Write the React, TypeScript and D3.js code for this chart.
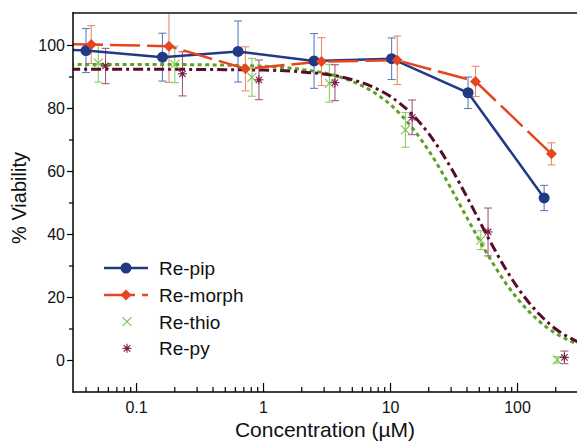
import React from 'react';
import * as d3 from 'd3';

// measured series (concentration in µM, % viability, error)
const pipConc = [0.04, 0.16, 0.63, 2.5, 10.2, 40.8, 162];
const pipVal = [98.4, 96.3, 98.1, 95.1, 95.8, 85.0, 51.6];
const pipErr = [7, 7.6, 9.7, 8.7, 6.6, 5, 4];

const morphConc = [0.044, 0.18, 0.72, 2.86, 11.3, 46.7, 185];
const morphVal = [100.3, 99.8, 92.6, 94.9, 95.3, 88.6, 65.6];
const morphErr = [6, 11.5, 7, 7.6, 7.7, 4.8, 3.5];

const thioConc = [0.05, 0.2, 0.81, 3.3, 13.1, 51.4, 206];
const thioVal = [94.4, 94.0, 89.9, 88.0, 73.2, 38.2, 0.2];
const thioErr = [6, 5.8, 6, 6, 5.5, 3, 1];

const pyConc = [0.057, 0.23, 0.92, 3.65, 14.8, 58.6, 234];
const pyVal = [93.5, 91.0, 89.1, 88.2, 77.2, 40.8, 1.0];
const pyErr = [5.6, 7, 6.3, 5.7, 5.5, 7.6, 2];

// fitted dose-response curves
const fitConc = [0.03, 0.1, 0.3, 1, 2, 4, 7, 10, 15, 20, 30, 40, 60, 80, 100, 150, 200, 300];
const thioFit = [94.0, 94.0, 93.9, 93.4, 92.4, 90.0, 85.7, 81.2, 73.6, 66.6, 54.6, 45.3, 32.7, 24.8, 19.6, 12.3, 8.6, 5.1];
const pyFit = [92.5, 92.5, 92.4, 92.2, 91.6, 90.1, 87.1, 83.8, 77.9, 72.0, 61.1, 51.9, 38.3, 29.3, 23.2, 14.5, 10.0, 5.85];

const xTickLabels = ['0.1', '1', '10', '100'];
const yTickValues = [0, 20, 40, 60, 80, 100];
const yMinorValues = [10, 30, 50, 70, 90];
const legendLabels = ['Re-pip', 'Re-morph', 'Re-thio', 'Re-py'];

const W = 577;
const H = 443;
const margin = { top: 14, right: 0, bottom: 51, left: 73 };

const colors = {
  pip: '#213a86',
  pipErr: '#5b7fc3',
  morph: '#e6461f',
  morphErr: '#ef8a6c',
  thio: '#7cc04f',
  thioFit: '#5f9f23',
  thioErr: '#8fcb6c',
  py: '#7a1f47',
  pyFit: '#5a0b27',
  pyErr: '#a45a7c',
};

const font = 'Liberation Sans, Arial, Helvetica, sans-serif';

const x = d3.scaleLog().domain([0.0316, 294]).range([margin.left, W - margin.right]);
const y = d3.scaleLinear().domain([-10, 110]).range([H - margin.bottom, margin.top]);

const zip = (xs: number[], ys: number[]) => xs.map((c, i) => [c, ys[i]] as [number, number]);

const Cross = ({ cx, cy, color, r = 4.5 }: any) => (
  <g stroke={color} strokeWidth={1.1}>
    <line x1={cx - r} y1={cy - r} x2={cx + r} y2={cy + r} />
    <line x1={cx - r} y1={cy + r} x2={cx + r} y2={cy - r} />
  </g>
);

const Star = ({ cx, cy, color, r = 4.5 }: any) => (
  <g stroke={color} strokeWidth={1.1}>
    <line x1={cx - r} y1={cy} x2={cx + r} y2={cy} />
    <line x1={cx} y1={cy - r} x2={cx} y2={cy + r} />
    <line x1={cx - r * 0.72} y1={cy - r * 0.72} x2={cx + r * 0.72} y2={cy + r * 0.72} />
    <line x1={cx - r * 0.72} y1={cy + r * 0.72} x2={cx + r * 0.72} y2={cy - r * 0.72} />
    <circle cx={cx} cy={cy} r={1.3} fill={color} />
  </g>
);

const Diamond = ({ cx, cy, color, r = 5.5 }: any) => (
  <path d={`M${cx},${cy - r}L${cx + r},${cy}L${cx},${cy + r}L${cx - r},${cy}Z`} fill={color} />
);

const ErrorBars = ({ conc, val, err, color }: any) => (
  <g stroke={color} strokeWidth={1.1} fill="none">
    {conc.map((c: number, i: number) => {
      const cx = x(c);
      const top = y(val[i] + err[i]);
      const bot = y(val[i] - err[i]);
      return (
        <g key={i}>
          <line x1={cx} x2={cx} y1={top} y2={bot} />
          <line x1={cx - 4} x2={cx + 4} y1={top} y2={top} />
          <line x1={cx - 4} x2={cx + 4} y1={bot} y2={bot} />
        </g>
      );
    })}
  </g>
);

const App = () => {
  const lineLin = d3.line<[number, number]>().x(d => x(d[0])).y(d => y(d[1]));
  const lineFit = d3.line<[number, number]>().x(d => x(d[0])).y(d => y(d[1])).curve(d3.curveMonotoneX);

  const majors = xTickLabels.map(Number);
  const minors: number[] = [];
  [0.01, 0.1, 1, 10, 100].forEach(dec => {
    for (let k = 2; k <= 9; k++) {
      const v = dec * k;
      if (v > 0.0316 && v < 294) minors.push(v);
    }
  });

  const plotBottom = H - margin.bottom;
  const legX = 104;
  const legY = [268, 295, 321.7, 348.3];

  return (
    <svg width={W} height={H} style={{ position: 'absolute', left: 0, top: 0, background: '#fff' }} fontFamily={font}>
      <defs>
        <clipPath id="plot">
          <rect x={margin.left} y={margin.top - 1} width={W - margin.left} height={plotBottom - margin.top + 1} />
        </clipPath>
      </defs>

      <g clipPath="url(#plot)">
        {/* error bars */}
        <ErrorBars conc={pipConc} val={pipVal} err={pipErr} color={colors.pipErr} />
        <ErrorBars conc={morphConc} val={morphVal} err={morphErr} color={colors.morphErr} />
        <ErrorBars conc={thioConc} val={thioVal} err={thioErr} color={colors.thioErr} />
        <ErrorBars conc={pyConc} val={pyVal} err={pyErr} color={colors.pyErr} />

        {/* fits */}
        <path d={lineFit(zip(fitConc, thioFit)) || ''} fill="none" stroke={colors.thioFit} strokeWidth={3} strokeDasharray="4,3.5" />
        <path d={lineFit(zip(fitConc, pyFit)) || ''} fill="none" stroke={colors.pyFit} strokeWidth={3} strokeDasharray="10,4,3,4" />

        {/* connected series */}
        <path d={lineLin(zip([0.0316, ...pipConc], [98.6, ...pipVal])) || ''} fill="none" stroke={colors.pip} strokeWidth={2.5} />
        <path d={lineLin(zip([0.0316, ...morphConc], [100.4, ...morphVal])) || ''} fill="none" stroke={colors.morph} strokeWidth={2.5} strokeDasharray="30,7" />

        {thioConc.map((c, i) => <Cross key={i} cx={x(c)} cy={y(thioVal[i])} color={colors.thio} />)}
        {pyConc.map((c, i) => <Star key={i} cx={x(c)} cy={y(pyVal[i])} color={colors.py} />)}
        {pipConc.map((c, i) => <circle key={i} cx={x(c)} cy={y(pipVal[i])} r={5.5} fill={colors.pip} />)}
        {morphConc.map((c, i) => <Diamond key={i} cx={x(c)} cy={y(morphVal[i])} color={colors.morph} />)}
      </g>

      {/* frame */}
      <line x1={margin.left} x2={W} y1={13} y2={13} stroke="#4a4a4a" strokeWidth={2} />
      <line x1={margin.left} x2={margin.left} y1={12} y2={plotBottom + 0.75} stroke="#000" strokeWidth={1.5} />
      <line x1={margin.left} x2={W} y1={plotBottom} y2={plotBottom} stroke="#000" strokeWidth={1.5} />

      {/* y ticks */}
      {yTickValues.map(v => (
        <g key={v}>
          <line x1={margin.left - 6} x2={margin.left} y1={y(v)} y2={y(v)} stroke="#000" strokeWidth={1.2} />
          <text x={margin.left - 8} y={y(v)} dy="0.36em" textAnchor="end" fontSize={16} fill="#111">{v}</text>
        </g>
      ))}
      {yMinorValues.map(v => (
        <line key={v} x1={margin.left - 4} x2={margin.left} y1={y(v)} y2={y(v)} stroke="#000" strokeWidth={1.2} />
      ))}

      {/* x ticks, inward */}
      {majors.map((v, i) => (
        <g key={v}>
          <line x1={x(v)} x2={x(v)} y1={plotBottom - 9} y2={plotBottom} stroke="#000" strokeWidth={1.2} />
          <text x={x(v)} y={412.5} textAnchor="middle" fontSize={16} fill="#111">{xTickLabels[i]}</text>
        </g>
      ))}
      {minors.map(v => (
        <line key={v} x1={x(v)} x2={x(v)} y1={plotBottom - 5} y2={plotBottom} stroke="#000" strokeWidth={1.2} />
      ))}

      {/* axis titles */}
      <text x={325} y={436.5} textAnchor="middle" fontSize={21} fill="#111">Concentration (µM)</text>
      <text transform={`translate(26,198) rotate(-90)`} textAnchor="middle" fontSize={20} fill="#111">% Viability</text>

      {/* legend */}
      <g>
        <line x1={legX} x2={legX + 44} y1={legY[0]} y2={legY[0]} stroke={colors.pip} strokeWidth={2.5} />
        <circle cx={legX + 22} cy={legY[0]} r={5.5} fill={colors.pip} />
        <line x1={legX} x2={legX + 44} y1={legY[1]} y2={legY[1]} stroke={colors.morph} strokeWidth={2.5} strokeDasharray="31,7" />
        <Diamond cx={legX + 22} cy={legY[1]} color={colors.morph} />
        <Cross cx={legX + 23} cy={legY[2]} color={colors.thio} />
        <Star cx={legX + 23} cy={legY[3]} color={colors.py} />
        {legendLabels.map((t, i) => (
          <text key={t} x={159} y={legY[i]} dy="0.36em" fontSize={19} fill="#111">{t}</text>
        ))}
      </g>
    </svg>
  );
};

export default App;
